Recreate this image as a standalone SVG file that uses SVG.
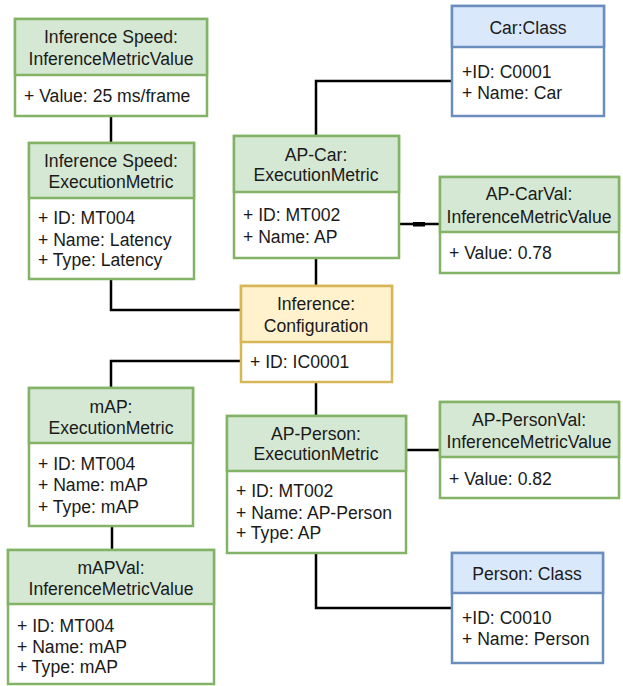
<svg xmlns="http://www.w3.org/2000/svg" width="623" height="686" viewBox="0 0 623 686">
<style>
text{font-family:"Liberation Sans",Arial,sans-serif;font-size:17.6px;fill:#1a1a1a}
.h{text-anchor:middle}
.g{fill:#d5e8d4;stroke:#82b366;stroke-width:2.5}
.gb{fill:#ffffff;stroke:#82b366;stroke-width:2.5}
.b{fill:#dae8fc;stroke:#6c8ebf;stroke-width:2.5}
.bb{fill:#ffffff;stroke:#6c8ebf;stroke-width:2.5}
.y{fill:#fff2cc;stroke:#d6b656;stroke-width:2.5}
.yb{fill:#ffffff;stroke:#d6b656;stroke-width:2.5}
.c{fill:none;stroke:#000;stroke-width:2.5}
</style>
<rect width="623" height="686" fill="#ffffff"/>
<g id="connectors">
<path class="c" d="M111 116V143"/>
<path class="c" d="M111 279V310H241"/>
<path class="c" d="M316 136V81H452"/>
<path class="c" d="M399 224H440"/>
<rect x="413" y="222" width="12" height="4.5" fill="#000"/>
<path class="c" d="M316 258V286"/>
<path class="c" d="M241 361H111V388"/>
<path class="c" d="M316 382V416"/>
<path class="c" d="M406 450H440"/>
<path class="c" d="M112 526V550"/>
<path class="c" d="M316 553V608H452"/>
</g>
<g id="speedValue">
<rect class="gb" x="15" y="19" width="192" height="97"/>
<rect class="g" x="15" y="19" width="192" height="56"/>
<text class="h" x="111" y="43">Inference Speed:</text>
<text class="h" x="111" y="65">InferenceMetricValue</text>
<text x="24" y="102">+ Value: 25 ms/frame</text>
</g>
<g id="speedMetric">
<rect class="gb" x="29" y="143" width="165" height="136"/>
<rect class="g" x="29" y="143" width="165" height="55"/>
<text class="h" x="111" y="167">Inference Speed:</text>
<text class="h" x="111" y="188">ExecutionMetric</text>
<text x="38" y="224">+ ID: MT004</text>
<text x="38" y="246">+ Name: Latency</text>
<text x="38" y="266">+ Type: Latency</text>
</g>
<g id="apCar">
<rect class="gb" x="234" y="136" width="165" height="122"/>
<rect class="g" x="234" y="136" width="165" height="56"/>
<text class="h" x="316" y="161">AP-Car:</text>
<text class="h" x="316" y="181">ExecutionMetric</text>
<text x="243" y="221">+ ID: MT002</text>
<text x="243" y="243">+ Name: AP</text>
</g>
<g id="carClass">
<rect class="bb" x="452" y="6" width="152" height="110"/>
<rect class="b" x="452" y="6" width="152" height="41"/>
<text class="h" x="528" y="34">Car:Class</text>
<text x="462" y="78">+ID: C0001</text>
<text x="462" y="99">+ Name: Car</text>
</g>
<g id="apCarVal">
<rect class="gb" x="440" y="177" width="179" height="96"/>
<rect class="g" x="440" y="177" width="179" height="55"/>
<text class="h" x="529" y="200">AP-CarVal:</text>
<text class="h" x="529" y="223">InferenceMetricValue</text>
<text x="449" y="259">+ Value: 0.78</text>
</g>
<g id="config">
<rect class="yb" x="241" y="286" width="151" height="96"/>
<rect class="y" x="241" y="286" width="151" height="56"/>
<text class="h" x="316" y="310">Inference:</text>
<text class="h" x="316" y="332">Configuration</text>
<text x="250" y="368">+ ID: IC0001</text>
</g>
<g id="mapMetric">
<rect class="gb" x="29" y="388" width="164" height="138"/>
<rect class="g" x="29" y="388" width="164" height="55"/>
<text class="h" x="111" y="413">mAP:</text>
<text class="h" x="111" y="434">ExecutionMetric</text>
<text x="38" y="470">+ ID: MT004</text>
<text x="38" y="491">+ Name: mAP</text>
<text x="38" y="513">+ Type: mAP</text>
</g>
<g id="apPerson">
<rect class="gb" x="227" y="416" width="179" height="137"/>
<rect class="g" x="227" y="416" width="179" height="55"/>
<text class="h" x="316" y="440">AP-Person:</text>
<text class="h" x="316" y="460">ExecutionMetric</text>
<text x="236" y="497">+ ID: MT002</text>
<text x="236" y="519">+ Name: AP-Person</text>
<text x="236" y="539">+ Type: AP</text>
</g>
<g id="apPersonVal">
<rect class="gb" x="440" y="402" width="179" height="96"/>
<rect class="g" x="440" y="402" width="179" height="55"/>
<text class="h" x="529" y="426">AP-PersonVal:</text>
<text class="h" x="529" y="448">InferenceMetricValue</text>
<text x="449" y="485">+ Value: 0.82</text>
</g>
<g id="mapVal">
<rect class="gb" x="8" y="550" width="206" height="134"/>
<rect class="g" x="8" y="550" width="206" height="54"/>
<text class="h" x="111" y="574">mAPVal:</text>
<text class="h" x="111" y="595">InferenceMetricValue</text>
<text x="17" y="632">+ ID: MT004</text>
<text x="17" y="653">+ Name: mAP</text>
<text x="17" y="673">+ Type: mAP</text>
</g>
<g id="personClass">
<rect class="bb" x="452" y="553" width="151" height="110"/>
<rect class="b" x="452" y="553" width="151" height="40"/>
<text class="h" x="527" y="580">Person: Class</text>
<text x="462" y="624">+ID: C0010</text>
<text x="462" y="645">+ Name: Person</text>
</g>
</svg>
